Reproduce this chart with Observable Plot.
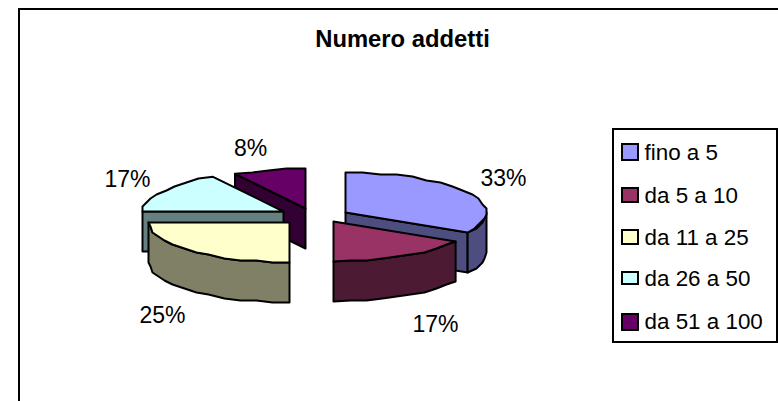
<!DOCTYPE html>
<html><head><meta charset="utf-8">
<script src="https://cdn.jsdelivr.net/npm/d3@7"></script>
<script src="https://cdn.jsdelivr.net/npm/@observablehq/plot@0.6"></script>
<style>html,body{margin:0;padding:0;background:#fff}svg{display:block}</style>
</head><body><div id="chart"></div>
<script>
const title = "Numero addetti";
const categories = ["fino a 5","da 5 a 10","da 11 a 25","da 26 a 50","da 51 a 100"];
const shares = [33,17,25,17,8];
const weights = [4,2,3,2,1];
const topColors = ["#9999ff","#993366","#ffffcc","#ccffff","#660066"];
const wallColors = ["#4d4d80","#4d1a33","#808066","#668080","#330033"];

// pie layout
const apexes = [[345,212],[333,221],[289,222],[283,211],[305,208]];
const labelAt = [[503,178],[435,324],[162,315],[127,179],[250,148]];
const rx = 141, ry = 40, depth = 40, step = 7;
const rowY = [152,195,237,278,321];
const swatchTop = [144,188,230,272,314];
const swatchBottom = [160,202,244,284,330];

const arcs = d3.pie().sort(null).value((d,i)=>weights[i])(categories)
  .map(a => ({a0:a.startAngle, a1:a.endAngle}));
const jag = v => Math.round(v/2)*2;
function rim(c, from, to, dy=0){
  const n = Math.max(1, Math.round((to-from)/(step*Math.PI/180)));
  return d3.range(n+1).map(k=>{
    const t = from+(to-from)*k/n;
    const edge = k===0 || k===n;
    const X = c[0]+rx*Math.sin(t), Y = c[1]-ry*Math.cos(t)+dy;
    return edge ? {x:X, y:Y} : {x:jag(X), y:jag(Y)};
  });
}
const closed = p => [...p, p[0]];
const poly = (p, fill) => Plot.line(closed(p), {x:"x", y:"y", fill, stroke:"#000", strokeWidth:2, strokeLinejoin:"round", curve:"linear"});

const pieMarks = [];
for (const i of [4,3,2,0,1]) {
  const c = apexes[i], {a0,a1} = arcs[i];
  const pt = (t,dy=0)=>({x:c[0]+rx*Math.sin(t), y:c[1]-ry*Math.cos(t)+dy});
  const apex = dy=>({x:c[0], y:c[1]+dy});
  // cut walls facing the viewer
  if (Math.sin(a0) < -1e-6) pieMarks.push(poly([apex(0),pt(a0),pt(a0,depth),apex(depth)], wallColors[i]));
  if (Math.sin(a1) > 1e-6) pieMarks.push(poly([apex(0),pt(a1),pt(a1,depth),apex(depth)], wallColors[i]));
  // outer wall
  const f = Math.max(a0,Math.PI/2), t = Math.min(a1,3*Math.PI/2);
  if (t>f) pieMarks.push(poly([...rim(c,f,t), ...rim(c,f,t,depth).reverse()], wallColors[i]));
  // top
  pieMarks.push(poly([apex(0), ...rim(c,a0,a1)], topColors[i]));
}

const labels = shares.map((s,i)=>({t:s+"%", x:labelAt[i][0], y:labelAt[i][1]}));
const legend = categories.map((t,i)=>({t, y:rowY[i], y1:swatchTop[i], y2:swatchBottom[i], c:topColors[i]}));

const plot = Plot.plot({
  width:778, height:401, margin:0,
  x:{domain:[0,778], range:[0,778], axis:null},
  y:{domain:[0,401], range:[0,401], axis:null},
  marks:[
    Plot.rect([{}],{x1:()=>19,x2:()=>790,y1:()=>9,y2:()=>420,fill:"#fff",stroke:"#000",strokeWidth:2}),
    ...pieMarks,
    Plot.text(labels,{x:"x",y:"y",text:"t",fontSize:23,fontFamily:"Liberation Sans",fill:"#000"}),
    Plot.text([title],{x:()=>402,y:()=>39,text:d=>d,fontSize:23.8,fontWeight:"bold",fontFamily:"Liberation Sans",fill:"#000"}),
    Plot.rect([{}],{x1:()=>613,x2:()=>777,y1:()=>129,y2:()=>342,fill:"#fff",stroke:"#000",strokeWidth:2}),
    Plot.rect(legend,{x1:()=>622,x2:()=>638,y1:"y1",y2:"y2",fill:"c",stroke:"#000",strokeWidth:2}),
    Plot.text(legend,{x:()=>644,y:"y",text:"t",textAnchor:"start",fontSize:22.4,fontFamily:"Liberation Sans",fill:"#000"})
  ]
});
document.getElementById("chart").append(plot);
</script></body></html>
